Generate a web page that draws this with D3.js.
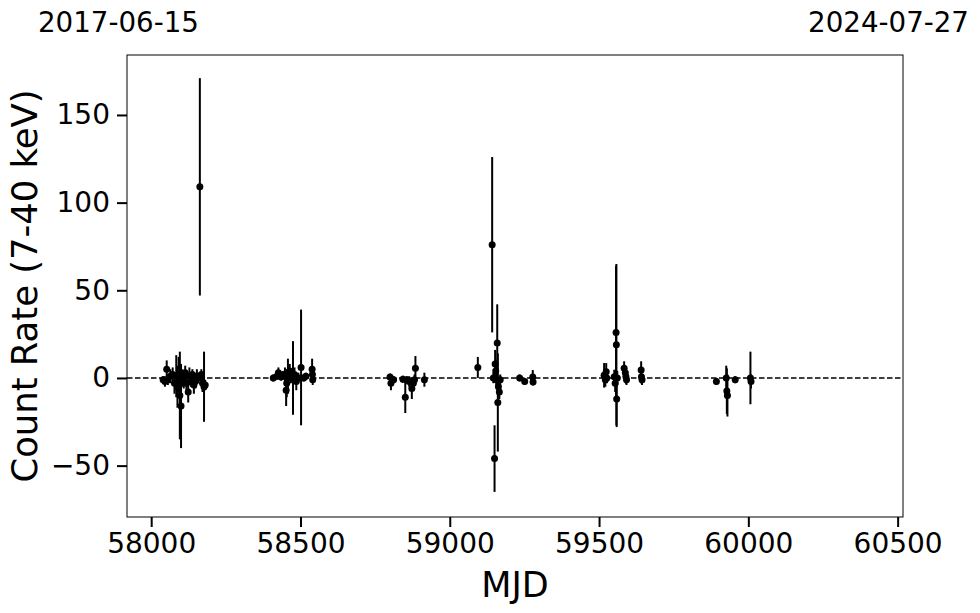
<!DOCTYPE html>
<html>
<head>
<meta charset="utf-8">
<script src="https://cdn.jsdelivr.net/npm/d3@7"></script>
<style>
  html, body { margin: 0; padding: 0; background: #fff; }
  svg text { font-family: "DejaVu Sans", sans-serif; fill: #000; }
</style>
</head>
<body>
<svg id="chart" width="980" height="613"></svg>
<script>
// ---- data ----
const mjd = [
  58040, 58046, 58052, 58056, 58064, 58072, 58078, 58084, 58088, 58092, 58096, 58100, 58104, 58109, 58114, 58118, 58124, 58128, 58133, 58138, 58143, 58148, 58153, 58158, 58163, 58168, 58172, 58177, 58181,
  58409, 58421, 58426, 58435, 58442, 58448, 58452, 58454, 58458, 58464, 58468, 58475, 58480, 58486, 58493, 58502, 58511, 58518, 58539, 58540, 58541,
  58800, 58803, 58812, 58843, 58851, 58856, 58864, 58873, 58878, 58882, 58885, 58915,
  59094, 59142, 59146, 59150, 59152, 59154, 59156, 59157, 59159, 59161, 59163, 59166, 59169, 59234, 59251, 59278, 59279,
  59517, 59521, 59524, 59526, 59551, 59554, 59557, 59558, 59559, 59561, 59584, 59588, 59590, 59592, 59641, 59642, 59644,
  59893, 59926, 59928, 59930, 59956, 60007, 60009
];
const rate = [
  -1, -2, 5, -1, 1, 2, -3, 1, -5, 2, -10, -16, 0, -2, 3, -3, -8, 1, -1, 2, -4, -2, 1, 0, 109, 2, -3, -5, -4,
  0, 1, 3, 0.5, 2, 1, -7, -3, 1, 4, 0, 0, 2, -2, 0, 6, 0, 1, 5, 2, -1,
  0.5, -3, -1, -0.7, -11, -1, -2, -6, -3, -1, 5.5, -1,
  6, 76, 0, -46, 8, 4, -1, -1, 20, -14, -5, -8, -1, 0, -2, 0.5, -2.3,
  1.5, -1, 3.5, 0, 0.7, -3, 26, 19, -12, 0, 5.5, 3, 0.7, -1, 4.5, 0.7, -1,
  -2, 0, -7.5, -10, -1, 0, -2
];
const err = [
  2, 3, 5, 3, 4, 4, 6, 12, 12, 10, 25, 24, 5, 4, 4, 5, 6, 5, 4, 3, 5, 4, 4, 3, 62, 3, 5, 20, 3,
  2, 2, 3, 2, 2, 5, 9, 8, 10, 4, 3, 21, 4, 5, 3, 33, 2, 2, 6, 4, 3,
  2, 4, 2, 2, 9, 2, 3, 6, 3, 3, 7, 4,
  6, 50, 3, 19, 8, 6, 4, 3, 22, 28, 5, 4, 3, 2, 2, 4, 2,
  7, 4, 5, 3, 4, 5, 38, 46, 16, 4, 4, 3, 4, 3, 5, 4, 3,
  2, 7, 13, 12, 2, 15, 4
];
const xTicks = [58000, 58500, 59000, 59500, 60000, 60500];
const yTicks = [-50, 0, 50, 100, 150];
const dateLabels = ["2017-06-15", "2024-07-27"];
const xLabel = "MJD";
const yLabel = "Count Rate (7-40 keV)";

// ---- layout ----
const svg = d3.select("#chart");
const pL = 127, pR = 903, pT = 55, pB = 517;
const x = d3.scaleLinear().domain([57919, 60518]).range([pL, pR]);
const y = d3.scaleLinear().domain([-79.3, 184.2]).range([pB, pT]);

const fmt = d => (d < 0 ? "\u2212" + Math.abs(d) : String(d));

// zero line
svg.append("line")
  .attr("x1", pL).attr("x2", pR)
  .attr("y1", y(0)).attr("y2", y(0))
  .attr("stroke", "#000").attr("stroke-width", 1.5)
  .attr("stroke-dasharray", "5.5,2.5");

// data
const pts = mjd.map((m, i) => ({ m, v: rate[i], e: err[i] }));
const g = svg.append("g");
g.selectAll("line.err").data(pts).enter().append("line")
  .attr("class", "err")
  .attr("x1", d => x(d.m)).attr("x2", d => x(d.m))
  .attr("y1", d => y(d.v - d.e)).attr("y2", d => y(d.v + d.e))
  .attr("stroke", "#000").attr("stroke-width", 2);
g.selectAll("circle").data(pts).enter().append("circle")
  .attr("cx", d => x(d.m)).attr("cy", d => y(d.v))
  .attr("r", 3.5).attr("fill", "#000");

// frame
svg.append("rect")
  .attr("x", pL).attr("y", pT)
  .attr("width", pR - pL).attr("height", pB - pT)
  .attr("fill", "none").attr("stroke", "#000").attr("stroke-width", 1);

// axes
const xAxis = svg.append("g").attr("transform", `translate(0,${pB})`)
  .call(d3.axisBottom(x).tickValues(xTicks).tickSize(10).tickPadding(6).tickFormat(d3.format("d")));
const yAxis = svg.append("g").attr("transform", `translate(${pL},0)`)
  .call(d3.axisLeft(y).tickValues(yTicks).tickSize(10).tickPadding(7).tickFormat(fmt));
[xAxis, yAxis].forEach(a => {
  a.select(".domain").remove();
  a.selectAll(".tick line").attr("stroke", "#000").attr("stroke-width", 2);
  a.selectAll(".tick text").attr("font-size", "28px").attr("font-family", "DejaVu Sans");
});

// labels
svg.append("text").attr("x", (pL + pR) / 2).attr("y", 597)
  .attr("text-anchor", "middle").attr("font-size", "35px").text(xLabel);
svg.append("text")
  .attr("transform", `translate(37,${(pT + pB) / 2}) rotate(-90)`)
  .attr("text-anchor", "middle").attr("font-size", "35.4px").text(yLabel);

svg.append("text").attr("x", 38).attr("y", 32)
  .attr("text-anchor", "start").attr("font-size", "27.7px").text(dateLabels[0]);
svg.append("text").attr("x", 969).attr("y", 32)
  .attr("text-anchor", "end").attr("font-size", "27.7px").text(dateLabels[1]);
</script>
</body>
</html>
